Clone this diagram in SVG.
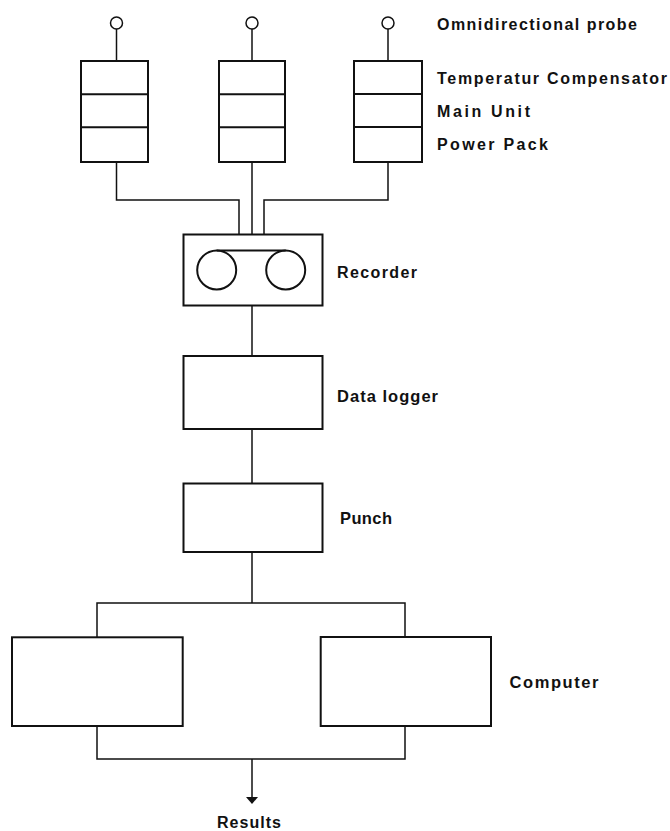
<svg xmlns="http://www.w3.org/2000/svg" width="670" height="831" viewBox="0 0 670 831">
<defs>
<style>
.box{fill:none;stroke:#111;stroke-width:2}
.div{stroke:#111;stroke-width:2}
.con{fill:none;stroke:#111;stroke-width:1.5}
.probe{fill:#fff;stroke:#111;stroke-width:1.5}
.lbl{font-family:"Liberation Sans",Arial,sans-serif;font-weight:bold;font-size:16px;fill:#111}
.lbl16{font-size:16.5px}
</style>
</defs>
<rect width="670" height="831" fill="#fff"/>

<g id="connectors">
<line class="con" x1="116.5" y1="29" x2="116.5" y2="61"/>
<line class="con" x1="252" y1="29" x2="252" y2="61"/>
<line class="con" x1="388" y1="29" x2="388" y2="61"/>
<path class="con" d="M116.5,162 V200 H239 V234"/>
<path class="con" d="M252,162 V234"/>
<path class="con" d="M388,162 V200 H264 V234"/>
<path class="con" d="M252,306 V356"/>
<path class="con" d="M252,429 V483"/>
<path class="con" d="M252,552 V603"/>
<path class="con" d="M97,637 V603 H405 V637"/>
<path class="con" d="M97,726 V759 H405 V726"/>
<path class="con" d="M252,759 V797"/>
<path d="M246,797 L258,797 L252,804 Z" fill="#111"/>
</g>

<g id="probe1">
<circle class="probe" cx="116.5" cy="23" r="6"/>
<rect class="box" x="81" y="61" width="67" height="101"/>
<line class="div" x1="81" y1="94.3" x2="148" y2="94.3"/>
<line class="div" x1="81" y1="127.3" x2="148" y2="127.3"/>
</g>
<g id="probe2">
<circle class="probe" cx="252" cy="23" r="6"/>
<rect class="box" x="219" y="61" width="66" height="101"/>
<line class="div" x1="219" y1="94.3" x2="285" y2="94.3"/>
<line class="div" x1="219" y1="127.3" x2="285" y2="127.3"/>
</g>
<g id="probe3">
<circle class="probe" cx="388" cy="23" r="6"/>
<rect class="box" x="354" y="61" width="68" height="101"/>
<line class="div" x1="354" y1="94" x2="422" y2="94"/>
<line class="div" x1="354" y1="127" x2="422" y2="127"/>
</g>
<g id="probe-labels">
<text class="lbl" x="437" y="30" textLength="200" lengthAdjust="spacing">Omnidirectional probe</text>
<text class="lbl" x="437" y="84" textLength="230" lengthAdjust="spacing">Temperatur Compensator</text>
<text class="lbl" x="437" y="116.5" textLength="93" lengthAdjust="spacing">Main Unit</text>
<text class="lbl" x="437" y="149.5" textLength="111" lengthAdjust="spacing">Power Pack</text>
</g>

<g id="recorder">
<rect class="box" x="183.5" y="234.5" width="139" height="71"/>
<circle class="box" cx="216.7" cy="270" r="19.5"/>
<circle class="box" cx="285.7" cy="270" r="19.5"/>
<line class="div" x1="216.7" y1="250.5" x2="285.7" y2="250.5"/>
<text class="lbl" x="337" y="277.7" textLength="80" lengthAdjust="spacing">Recorder</text>
</g>

<g id="datalogger">
<rect class="box" x="183.5" y="356" width="139" height="73"/>
<text class="lbl lbl16" x="337" y="402.3" textLength="101" lengthAdjust="spacing">Data logger</text>
</g>

<g id="punch">
<rect class="box" x="183.5" y="483.5" width="139" height="68.5"/>
<text class="lbl lbl16" x="340" y="524" textLength="52" lengthAdjust="spacing">Punch</text>
</g>

<g id="computer1">
<rect class="box" x="12" y="637.3" width="170.7" height="88.7"/>
</g>
<g id="computer2">
<rect class="box" x="320.7" y="637" width="170.3" height="89"/>
<text class="lbl lbl16" x="509.5" y="688" textLength="89" lengthAdjust="spacing">Computer</text>
</g>

<g id="results">
<text class="lbl" x="217" y="828" textLength="64" lengthAdjust="spacing">Results</text>
</g>
</svg>
